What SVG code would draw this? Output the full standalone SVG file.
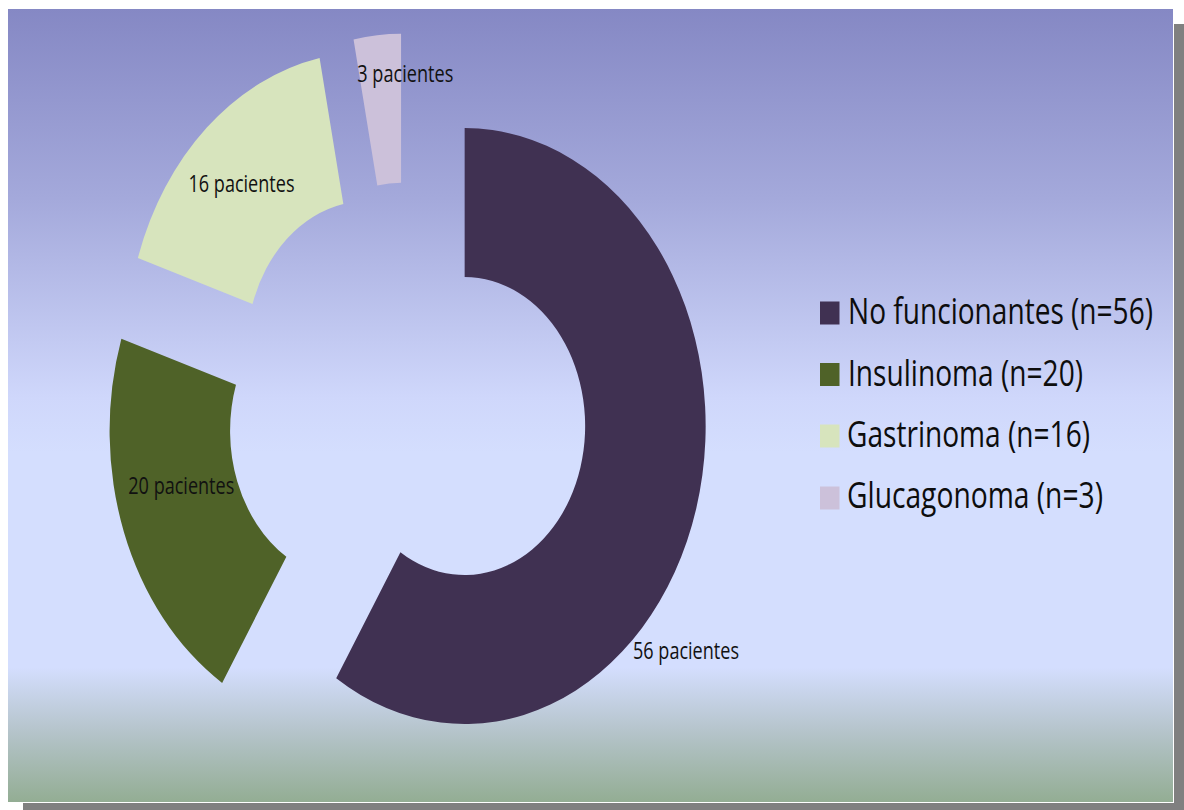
<svg xmlns="http://www.w3.org/2000/svg" width="1184" height="810" viewBox="0 0 1184 810">
  <defs>
    <linearGradient id="bg" x1="0" y1="0" x2="0" y2="1">
      <stop offset="0" stop-color="#8588c4"/>
      <stop offset="0.24" stop-color="#a4a9db"/>
      <stop offset="0.49" stop-color="#cfd7fb"/>
      <stop offset="0.56" stop-color="#d4defe"/>
      <stop offset="0.83" stop-color="#d4defe"/>
      <stop offset="0.91" stop-color="#b5c4cb"/>
      <stop offset="1" stop-color="#93ad93"/>
    </linearGradient>
    <style>
      .lbl { font-family: "Open Sans", "Noto Sans", sans-serif; font-size: 18.6px; fill: #111111; }
      .leg { font-family: "Open Sans", "Noto Sans", sans-serif; font-size: 29px; fill: #0d0d0d; }
      .s-nf { fill: #403152; }
      .s-ins { fill: #4f6228; }
      .s-gas { fill: #d7e4bd; }
      .s-glu { fill: #ccc1da; }
    </style>
  </defs>

  <!-- drop shadow and chart area -->
  <rect x="23" y="24" width="1161" height="786" fill="#808080"/>
  <rect x="7.5" y="8.5" width="1166" height="794" fill="url(#bg)" stroke="#ffffff" stroke-width="1"/>

  <!-- exploded doughnut (plot area stretched vertically) -->
  <g id="seg-no-funcionantes">
    <path class="s-nf" d="M464.65,128.08 A241,298 0 1 1 336.2,678.22 L400.42,552.15 A120.5,149 0 1 0 464.65,277.08 Z"/>
    <text class="lbl" transform="translate(633,659.3) scale(1,1.2365)" textLength="106" lengthAdjust="spacingAndGlyphs">56 pacientes</text>
  </g>
  <g id="seg-insulinoma">
    <path class="s-ins" d="M222.13,682.89 A241,298 0 0 1 121.37,338.66 L235.98,384.71 A120.5,149 0 0 0 286.35,556.82 Z"/>
    <text class="lbl" transform="translate(128.3,494) scale(1,1.2365)" textLength="106" lengthAdjust="spacingAndGlyphs">20 pacientes</text>
  </g>
  <g id="seg-gastrinoma">
    <path class="s-gas" d="M137.89,258 A241,298 0 0 1 319.59,57.94 L343.35,204.01 A120.5,149 0 0 0 252.5,304.05 Z"/>
    <text class="lbl" transform="translate(188.5,191.5) scale(1,1.2365)" textLength="106" lengthAdjust="spacingAndGlyphs">16 pacientes</text>
  </g>
  <g id="seg-glucagonoma">
    <path class="s-glu" d="M353.55,39.52 A241,298 0 0 1 401.06,33.67 L401.06,182.67 A120.5,149 0 0 0 377.31,185.59 Z"/>
    <text class="lbl" transform="translate(357.3,82) scale(1,1.2365)" textLength="96" lengthAdjust="spacingAndGlyphs">3 pacientes</text>
  </g>

  <!-- legend -->
  <g id="legend">
    <g id="leg-no-funcionantes">
      <rect class="s-nf" x="820" y="301.5" width="19.5" height="23"/>
      <text class="leg" transform="translate(848,323.5) scale(1,1.2365)" textLength="305" lengthAdjust="spacingAndGlyphs">No funcionantes (n=56)</text>
    </g>
    <g id="leg-insulinoma">
      <rect class="s-ins" x="820" y="363" width="19.5" height="23"/>
      <text class="leg" transform="translate(848,386) scale(1,1.2365)" textLength="235" lengthAdjust="spacingAndGlyphs">Insulinoma (n=20)</text>
    </g>
    <g id="leg-gastrinoma">
      <rect class="s-gas" x="820" y="424.5" width="19.5" height="23"/>
      <text class="leg" transform="translate(847,447) scale(1,1.2365)" textLength="243" lengthAdjust="spacingAndGlyphs">Gastrinoma (n=16)</text>
    </g>
    <g id="leg-glucagonoma">
      <rect class="s-glu" x="820" y="486.5" width="19.5" height="23"/>
      <text class="leg" transform="translate(847,508) scale(1,1.2365)" textLength="256" lengthAdjust="spacingAndGlyphs">Glucagonoma (n=3)</text>
    </g>
  </g>
</svg>
